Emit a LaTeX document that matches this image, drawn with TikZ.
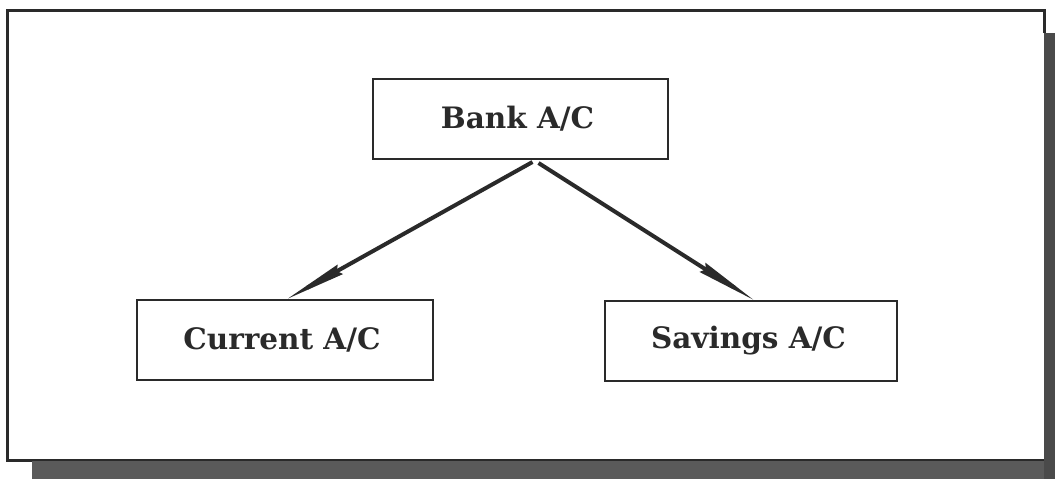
\documentclass[tikz,border=0pt]{standalone}
\usepackage{fontspec}
\setmainfont{DejaVu Serif}
\usetikzlibrary{decorations.markings}
\definecolor{ink}{HTML}{2A2A2A}
\definecolor{scanband}{HTML}{5A5A5A}
\begin{document}
\begin{tikzpicture}[x=1pt,y=-1pt,
  acbox/.style={draw=ink,line width=2pt,minimum width=#1,minimum height=80pt,inner sep=0pt,
    font=\fontsize{29.5}{34}\selectfont\bfseries,text=ink},
  acbox/.default=296pt,
  % shaft of a link, stopped short so the slim head keeps a sharp point
  linkshaft/.style={draw=ink,line width=4pt,shorten >=22pt},
  % long slim head placed at the end of the link
  linkhead/.style={decorate,decoration={markings,mark=at position 1 with {
      \fill[ink] (0pt,0pt) -- (-60pt,5.5pt) -- (-56pt,0pt) -- (-60pt,-5.5pt) -- cycle;}}}]
  \useasboundingbox (0,0) rectangle (1055,479);
  \fill[white] (0,0) rectangle (1055,479);
  % scanned page edges
  \fill[scanband] (32,460) rectangle (1055,479);
  \fill[ink!85] (1044,33) rectangle (1055,479);
  % outer frame
  \draw[ink,line width=3pt] (1044,33) -- (1044,10) -- (7,10) -- (7,460) -- (32,460);
  \draw[ink,line width=2pt] (32,460) -- (1044,460);
  % account boxes
  \node[acbox=295pt] (bank) at (520.5,119) {\hspace*{-6pt}Bank A/C};
  \node[acbox=296pt] (cur) at (285,339.5) {\hspace*{-6pt}Current A/C};
  \node[acbox=292pt] (sav) at (751,340.5) {\hspace*{-5pt}Savings A/C};
  % links
  \path[linkshaft] ([xshift=12pt,yshift=-2pt]bank.south) -- ([xshift=3pt]cur.north);
  \path[linkhead] ([xshift=12pt,yshift=-2pt]bank.south) -- ([xshift=3pt]cur.north);
  \path[linkshaft] ([xshift=18pt,yshift=-3pt]bank.south) -- ([xshift=2pt]sav.north);
  \path[linkhead] ([xshift=18pt,yshift=-3pt]bank.south) -- ([xshift=2pt]sav.north);
\end{tikzpicture}
\end{document}
